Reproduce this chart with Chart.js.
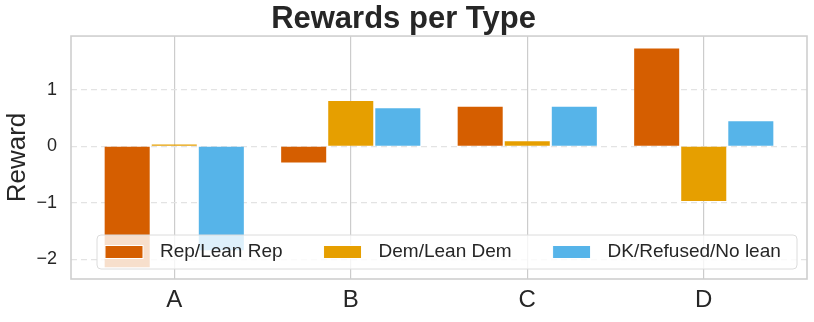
<!DOCTYPE html>
<html>
<head>
<meta charset="utf-8">
<script src="https://cdn.jsdelivr.net/npm/chart.js@4"></script>
<style>
  html, body { margin: 0; padding: 0; background: #fff; }
  #wrap { width: 814px; height: 322px; }
</style>
</head>
<body>
<div id="wrap"><canvas id="chart"></canvas></div>
<script>
// Rewards per Type
const categories = ['A', 'B', 'C', 'D'];
const repValues = [-2.14, -0.29, 0.70, 1.73];
const demValues = [0.03, 0.80, 0.09, -0.97];
const dkValues = [-1.84, 0.67, 0.70, 0.44];
const yTicks = [-2, -1, 0, 1];

const FONT = "'Liberation Sans', Arial, sans-serif";

function toPoints(values) {
    return values.map((v, i) => ({ x: i, y: v }));
}

// plot frame (seaborn whitegrid style)
const framePlugin = {
    id: 'frame',
    beforeDatasetsDraw(chart) {
        const a = chart.chartArea;
        const ctx = chart.ctx;
        ctx.save();
        ctx.strokeStyle = '#cfcfcf';
        ctx.lineWidth = 1.6;
        ctx.strokeRect(a.left, a.top, a.right - a.left, a.bottom - a.top);
        ctx.restore();
    }
};

// legend inside the plot, bottom, 3 columns
const innerLegend = {
    id: 'innerLegend',
    afterDatasetsDraw(chart) {
        const a = chart.chartArea;
        const ctx = chart.ctx;
        const left = a.left + 26, right = a.right - 10;
        const top = a.bottom - 44, bottom = a.bottom - 10;
        ctx.save();
        ctx.beginPath();
        ctx.roundRect(left, top, right - left, bottom - top, 4);
        ctx.fillStyle = 'rgba(255,255,255,0.8)';
        ctx.fill();
        ctx.strokeStyle = '#dcdcdc';
        ctx.lineWidth = 1;
        ctx.stroke();
        ctx.font = '19px ' + FONT;
        ctx.textBaseline = 'middle';
        let x = left + 8;
        const cy = (top + bottom) / 2;
        chart.data.datasets.forEach(ds => {
            ctx.fillStyle = ds.backgroundColor;
            ctx.fillRect(x, cy - 6.5, 38, 13);
            ctx.strokeStyle = '#fff';
            ctx.strokeRect(x, cy - 6.5, 38, 13);
            ctx.fillStyle = '#262626';
            ctx.fillText(ds.label, x + 55, cy);
            x += 55 + ctx.measureText(ds.label).width + 41;
        });
        ctx.restore();
    }
};

const ctx = document.getElementById('chart').getContext('2d');
const chart = new Chart(ctx, {
    type: 'bar',
    data: {
        datasets: [
            { label: 'Rep/Lean Rep', data: toPoints(repValues), backgroundColor: '#D55E00' },
            { label: 'Dem/Lean Dem', data: toPoints(demValues), backgroundColor: '#E69F00' },
            { label: 'DK/Refused/No lean', data: toPoints(dkValues), backgroundColor: '#56B4E9' }
        ]
    },
    options: {
        responsive: true,
        maintainAspectRatio: false,
        animation: false,
        datasets: {
            bar: {
                borderWidth: 0,
                categoryPercentage: 0.8,
                barPercentage: 0.957
            }
        },
        layout: { padding: { left: 0, right: 7, top: 0, bottom: 0 } },
        plugins: {
            legend: { display: false },
            tooltip: { enabled: false },
            title: {
                display: true,
                text: 'Rewards per Type',
                color: '#262626',
                font: { family: FONT, size: 31, weight: 'bold', lineHeight: 1.05 },
                padding: { top: 3.5, bottom: 0 }
            }
        },
        scales: {
            x: {
                type: 'linear',
                min: -0.585,
                max: 3.585,
                offset: false,
                afterFit(scale) { scale.height = 43; },
                afterBuildTicks(scale) {
                    scale.ticks = categories.map((c, i) => ({ value: i }));
                },
                ticks: {
                    color: '#262626',
                    font: { family: FONT, size: 24 },
                    padding: 7,
                    callback: v => categories[v]
                },
                grid: { color: '#cccccc', lineWidth: 1.2, drawTicks: false, offset: false },
                border: { display: false }
            },
            y: {
                min: -2.35,
                max: 1.95,
                afterFit(scale) { scale.width = 71; },
                afterBuildTicks(scale) {
                    scale.ticks = yTicks.map(v => ({ value: v }));
                },
                ticks: {
                    color: '#262626',
                    font: { family: FONT, size: 18 },
                    padding: 14,
                    callback: v => (v < 0 ? '\u2212' + Math.abs(v) : String(v))
                },
                grid: { color: '#e3e3e3', lineWidth: 1.2, drawTicks: false },
                border: { display: false, dash: [6, 4] },
                title: {
                    display: true,
                    text: 'Reward',
                    color: '#262626',
                    font: { family: FONT, size: 26 },
                    padding: { top: 2, bottom: 0 }
                }
            }
        }
    },
    plugins: [framePlugin, innerLegend]
});
</script>
</body>
</html>
